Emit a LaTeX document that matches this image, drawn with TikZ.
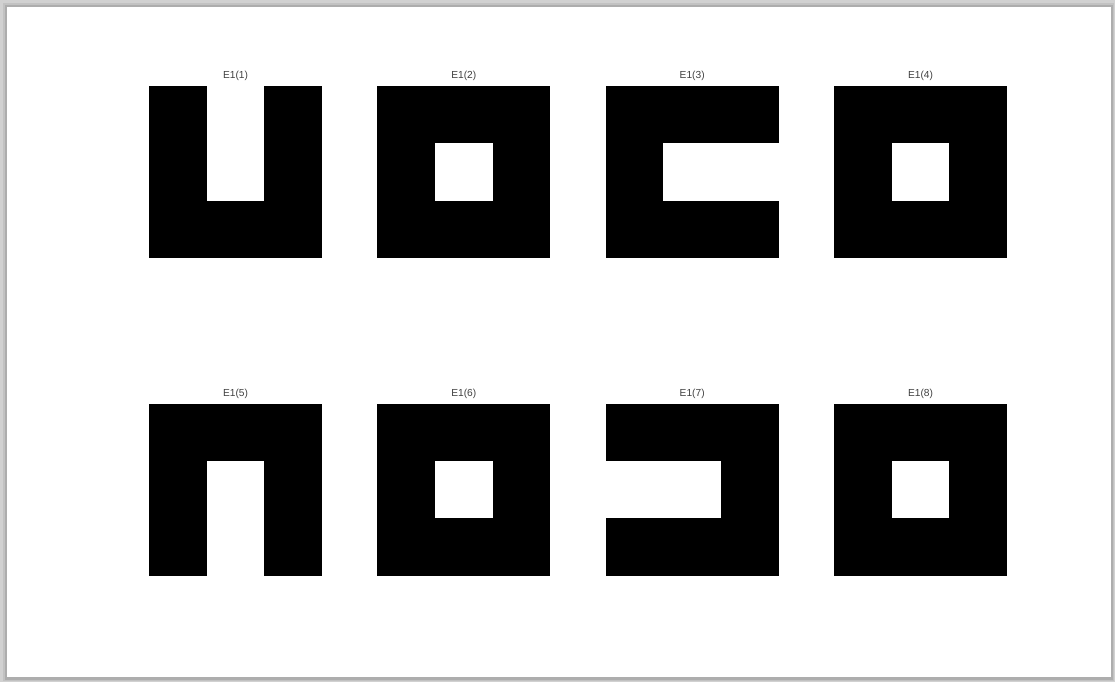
\documentclass[tikz,border=0pt]{standalone}
\usepackage{fontspec}
\setmainfont{Liberation Sans}
\usetikzlibrary{calc}
\tikzset{
  lbl/.style={text=black!75, font=\fontsize{2.9}{3.2}\selectfont, inner sep=0pt, anchor=base},
  blk/.style={fill=black},
  hole/.style={fill=white}
}
\newcommand{\panel}[4]{% #1 x0, #2 y0, #3 name, #4 label
  \fill[blk] (#1,#2) rectangle ++(173,172);
  \node[lbl] (#3) at ($(#1,#2)+(86.5,-7)$) {#4};
}
\newcommand{\cellw}[4]{% x0 y0 col row
  \fill[hole] ($(#1,#2)+(#3*57.667,#4*57.333)$) rectangle ++(57.667,57.5);
}
\begin{document}
\begin{tikzpicture}[x=0.01cm,y=-0.01cm]
\useasboundingbox (0,0) rectangle (1115,682);
% shadow frame
\fill[black!18] (0,0) rectangle (1115,682);
\fill[black!24] (3,3) rectangle (1114,681);
\fill[black!32] (5,5) rectangle (1113,680);
\fill[white] (7,7) rectangle (1111,677);
% top row
\panel{149}{86}{l1}{E1(1)}
\cellw{149}{85.8}{1}{0}\cellw{149}{86}{1}{1}
\panel{377.3}{86}{l2}{E1(2)}
\cellw{377.3}{86}{1}{1}
\panel{605.7}{86}{l3}{E1(3)}
\cellw{605.7}{86}{1}{1}\cellw{605.7}{86}{2}{1}
\panel{834}{86}{l4}{E1(4)}
\cellw{834}{86}{1}{1}
% bottom row
\panel{149}{403.5}{l5}{E1(5)}
\cellw{149}{403.5}{1}{1}\cellw{149}{403.5}{1}{2}
\panel{377.3}{403.5}{l6}{E1(6)}
\cellw{377.3}{403.5}{1}{1}
\panel{605.7}{403.5}{l7}{E1(7)}
\cellw{605.7}{403.5}{0}{1}\cellw{605.7}{403.5}{1}{1}
\panel{834}{403.5}{l8}{E1(8)}
\cellw{834}{403.5}{1}{1}
\end{tikzpicture}
\end{document}
